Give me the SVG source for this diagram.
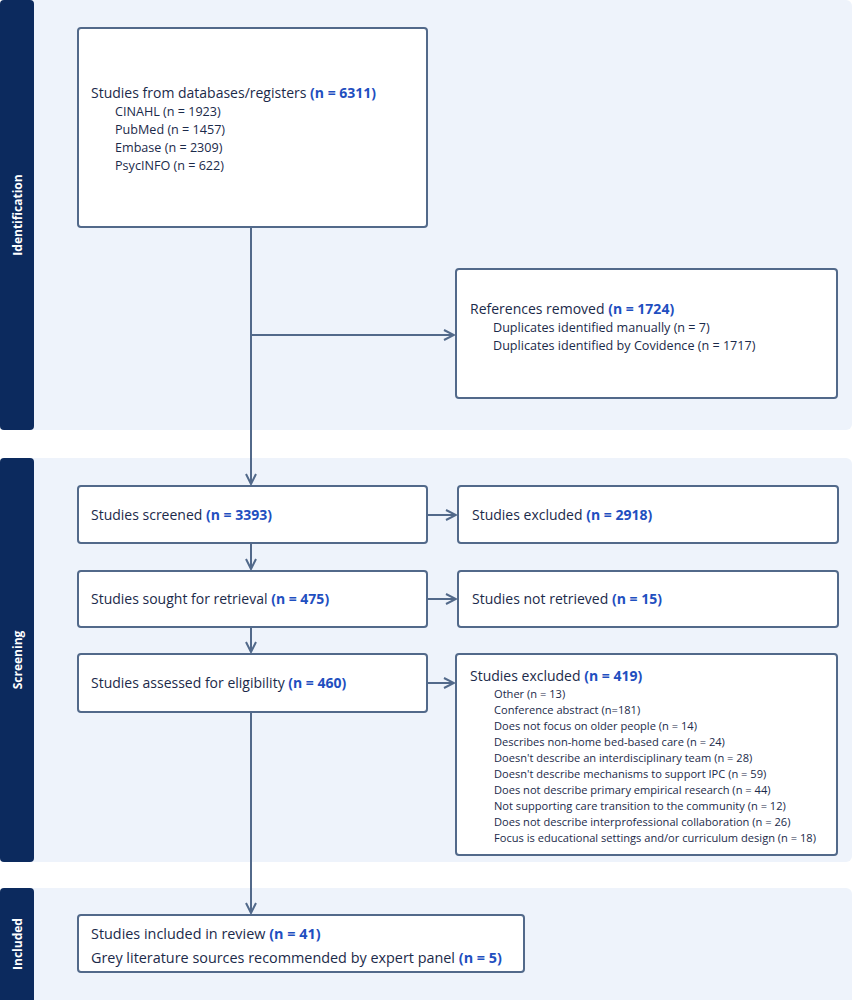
<svg xmlns="http://www.w3.org/2000/svg" width="853" height="1000" viewBox="0 0 853 1000">
<defs>
<marker id="arr" viewBox="0 0 12 12" refX="11" refY="6" markerWidth="12" markerHeight="12" markerUnits="userSpaceOnUse" orient="auto">
<path d="M1,1 L11,6 L1,11" fill="none" stroke="#52698A" stroke-width="2"/>
</marker>
<style>
.band{fill:#EEF3FB}
.side{fill:#0C2A5E}
.box{fill:#FFFFFF;stroke:#52698A;stroke-width:2}
.t{font-family:"Open Sans","Liberation Sans",sans-serif;font-size:14px;fill:#1B2A4A}
.s{font-family:"Open Sans","Liberation Sans",sans-serif;font-size:12.6px;fill:#1B2A4A}
.x{font-family:"Open Sans","Liberation Sans",sans-serif;font-size:11.1px;fill:#1B2A4A}
.i{font-family:"Open Sans","Liberation Sans",sans-serif;font-size:14.4px;fill:#1B2A4A}
.b{font-weight:bold;fill:#1F4FC0}
.lab{font-family:"Open Sans","Liberation Sans",sans-serif;font-size:12px;font-weight:bold;fill:#FFFFFF}
.c{fill:none;stroke:#52698A;stroke-width:2}
</style>
</defs>
<rect width="853" height="1000" fill="#FFFFFF"/>
<g id="bands">
<rect class="band" x="0" y="0" width="852" height="430" rx="6"/>
<rect class="side" x="0" y="0" width="34" height="430" rx="4"/>
<text class="lab" transform="translate(22,215) rotate(-90)" text-anchor="middle">Identification</text>
<rect class="band" x="0" y="458" width="852" height="404" rx="6"/>
<rect class="side" x="0" y="458" width="34" height="404" rx="4"/>
<text class="lab" transform="translate(22,660) rotate(-90)" text-anchor="middle">Screening</text>
<rect class="band" x="0" y="888" width="852" height="120" rx="6"/>
<rect class="side" x="0" y="888" width="34" height="120" rx="4"/>
<text class="lab" transform="translate(22,944) rotate(-90)" text-anchor="middle">Included</text>
</g>
<g id="connectors">
<line class="c" x1="251" y1="227" x2="251" y2="484" marker-end="url(#arr)"/>
<line class="c" x1="251" y1="335" x2="454" y2="335" marker-end="url(#arr)"/>
<line class="c" x1="427" y1="515" x2="456" y2="515" marker-end="url(#arr)"/>
<line class="c" x1="251" y1="543" x2="251" y2="569" marker-end="url(#arr)"/>
<line class="c" x1="427" y1="599" x2="456" y2="599" marker-end="url(#arr)"/>
<line class="c" x1="251" y1="627" x2="251" y2="652" marker-end="url(#arr)"/>
<line class="c" x1="427" y1="683" x2="454" y2="683" marker-end="url(#arr)"/>
<line class="c" x1="251" y1="712" x2="251" y2="913" marker-end="url(#arr)"/>
</g>
<g id="n-databases">
<rect class="box" x="78" y="28" width="349" height="199" rx="3"/>
<text class="t" x="91" y="98">Studies from databases/registers <tspan class="b">(n = 6311)</tspan></text>
<text class="s" x="115" y="116">CINAHL (n = 1923)</text>
<text class="s" x="115" y="134">PubMed (n = 1457)</text>
<text class="s" x="115" y="152">Embase (n = 2309)</text>
<text class="s" x="115" y="170">PsycINFO (n = 622)</text>
</g>
<g id="n-removed">
<rect class="box" x="456" y="269" width="381" height="129" rx="3"/>
<text class="t" x="470" y="314">References removed <tspan class="b">(n = 1724)</tspan></text>
<text class="s" x="493" y="332">Duplicates identified manually (n = 7)</text>
<text class="s" x="493" y="350">Duplicates identified by Covidence (n = 1717)</text>
</g>
<g id="n-screened">
<rect class="box" x="78" y="486" width="349" height="57" rx="3"/>
<text class="t" x="91" y="520">Studies screened <tspan class="b">(n = 3393)</tspan></text>
</g>
<g id="n-excluded1">
<rect class="box" x="458" y="486" width="380" height="57" rx="3"/>
<text class="t" x="472" y="520">Studies excluded <tspan class="b">(n = 2918)</tspan></text>
</g>
<g id="n-sought">
<rect class="box" x="78" y="571" width="349" height="56" rx="3"/>
<text class="t" x="91" y="604">Studies sought for retrieval <tspan class="b">(n = 475)</tspan></text>
</g>
<g id="n-notretrieved">
<rect class="box" x="458" y="571" width="380" height="56" rx="3"/>
<text class="t" x="472" y="604">Studies not retrieved <tspan class="b">(n = 15)</tspan></text>
</g>
<g id="n-assessed">
<rect class="box" x="78" y="654" width="349" height="58" rx="3"/>
<text class="t" x="91" y="688">Studies assessed for eligibility <tspan class="b">(n = 460)</tspan></text>
</g>
<g id="n-excluded2">
<rect class="box" x="456" y="654" width="381" height="201" rx="3"/>
<text class="t" x="470" y="681">Studies excluded <tspan class="b">(n = 419)</tspan></text>
<text class="x" x="494" y="698">Other (n = 13)</text>
<text class="x" x="494" y="714">Conference abstract (n=181)</text>
<text class="x" x="494" y="730">Does not focus on older people (n = 14)</text>
<text class="x" x="494" y="746">Describes non-home bed-based care (n = 24)</text>
<text class="x" x="494" y="762">Doesn't describe an interdisciplinary team (n = 28)</text>
<text class="x" x="494" y="778">Doesn't describe mechanisms to support IPC (n = 59)</text>
<text class="x" x="494" y="794">Does not describe primary empirical research (n = 44)</text>
<text class="x" x="494" y="810">Not supporting care transition to the community (n = 12)</text>
<text class="x" x="494" y="826">Does not describe interprofessional collaboration (n = 26)</text>
<text class="x" x="494" y="842">Focus is educational settings and/or curriculum design (n = 18)</text>
</g>
<g id="n-included">
<rect class="box" x="78" y="915" width="446" height="57" rx="3"/>
<text class="i" x="91" y="939">Studies included in review <tspan class="b">(n = 41)</tspan></text>
<text class="i" x="91" y="963">Grey literature sources recommended by expert panel <tspan class="b">(n = 5)</tspan></text>
</g>
</svg>
